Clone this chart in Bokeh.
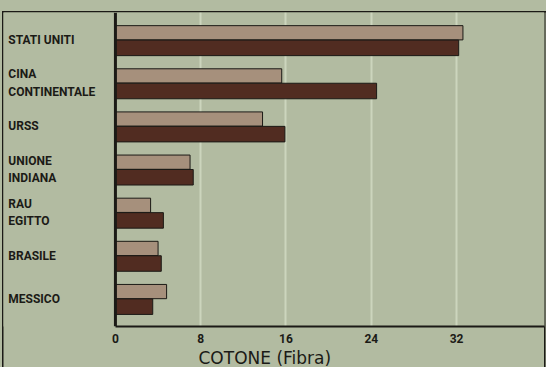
from bokeh.plotting import figure
from bokeh.models import ColumnDataSource, FactorRange, Range1d, FixedTicker, Title, Span
from bokeh.core.properties import value
from bokeh.embed import file_html
from bokeh.resources import INLINE
from bokeh.transform import dodge

# Data, top to bottom
countries = ["STATI UNITI", "CINA\nCONTINENTALE", "URSS", "UNIONE\nINDIANA", "RAU\nEGITTO", "BRASILE", "MESSICO"]
light_vals = [32.6, 15.6, 13.8, 7.0, 3.3, 4.0, 4.8]
dark_vals = [32.2, 24.5, 15.9, 7.3, 4.5, 4.3, 3.5]
x_ticks = [0, 8, 16, 24, 32]
x_title = "COTONE (Fibra)"

BG = "#b2bba1"
LIGHT = "#a6907c"
DARK = "#512c21"
INK = "#1b1a16"

factors = list(reversed(countries))
src = ColumnDataSource(dict(cat=countries, light=light_vals, dark=dark_vals))

p = figure(width=546, height=367, output_backend="svg", toolbar_location=None,
           y_range=FactorRange(factors=factors, range_padding=0.14, range_padding_units="absolute"),
           x_range=Range1d(-10.5, 40.25), y_axis_location=None,
           min_border_left=3, min_border_right=2, min_border_top=12, min_border_bottom=39)

p.background_fill_color = BG
p.border_fill_color = BG
p.border_fill_alpha = 0
p.outline_line_color = None

# grid
p.ygrid.grid_line_color = None
p.xgrid.ticker = FixedTicker(ticks=x_ticks)
p.xgrid.grid_line_color = "#ccd5bd"
p.xgrid.grid_line_width = 2

p.hbar(y=dodge("cat", 0.17, range=p.y_range), right="light", left=0, height=0.33,
       source=src, fill_color=LIGHT, line_color=INK, line_width=1)
p.hbar(y=dodge("cat", -0.18, range=p.y_range), right="dark", left=0, height=0.36,
       source=src, fill_color=DARK, line_color=INK, line_width=1)

# vertical value axis line at zero
p.add_layout(Span(location=0, dimension="height", line_color=INK, line_width=3))

# category labels, left aligned
p.text(x=-10.05, y="cat", text="cat", source=src,
       text_font=value("Roboto"), text_font_style="bold", text_font_size="12px",
       text_color=INK, text_align="left", text_baseline="middle", text_line_height=1.25)

# x axis
p.xaxis.ticker = FixedTicker(ticks=x_ticks)
p.xaxis.bounds = (0, 40.25)
p.xaxis.axis_line_color = INK
p.xaxis.axis_line_width = 2
p.xaxis.major_tick_line_color = None
p.xaxis.minor_tick_line_color = None
p.xaxis.major_label_text_font = "Roboto"
p.xaxis.major_label_text_font_style = "bold"
p.xaxis.major_label_text_font_size = "12px"
p.xaxis.major_label_text_color = INK
p.xaxis.major_label_standoff = 1

p.add_layout(Title(text=x_title, align="left", offset=195, text_font="DejaVu Sans",
                   text_font_size="17px", text_font_style="normal", text_color=INK,
                   standoff=0), "below")

html = file_html(p, INLINE)
line = "linear-gradient(%s,%s)" % (INK, INK)
css = ("<style>html,body{background:"
       + line + " 1.5px 10.5px / 1.5px 100% no-repeat,"
       + line + " 1.5px 10.5px / 100% 1.5px no-repeat,"
       + line + " 544px 10.5px / 1.5px 100% no-repeat,"
       + BG + ";}</style>")
html = html.replace("</head>", css + "</head>", 1)
open("out.html", "w").write(html)
